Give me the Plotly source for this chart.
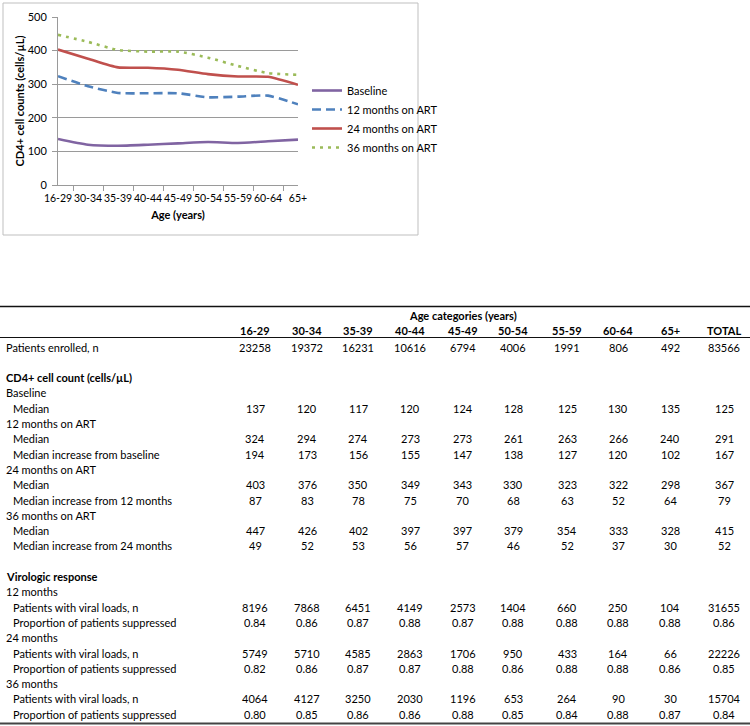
import plotly.graph_objects as go

W, H = 750, 726

# ---------------- data ----------------
age_groups = ["16-29", "30-34", "35-39", "40-44", "45-49", "50-54", "55-59", "60-64", "65+"]
col_headers = age_groups + ["TOTAL"]

baseline = [137, 120, 117, 120, 124, 128, 125, 130, 135]
m12 = [324, 294, 274, 273, 273, 261, 263, 266, 240]
m24 = [403, 376, 350, 349, 343, 330, 323, 322, 298]
m36 = [447, 426, 402, 397, 397, 379, 354, 333, 328]

series_names = ["Baseline", "12 months on ART", "24 months on ART", "36 months on ART"]

enrolled = ["23258", "19372", "16231", "10616", "6794", "4006", "1991", "806", "492", "83566"]
base_median = ["137", "120", "117", "120", "124", "128", "125", "130", "135", "125"]
m12_median = ["324", "294", "274", "273", "273", "261", "263", "266", "240", "291"]
m12_inc = ["194", "173", "156", "155", "147", "138", "127", "120", "102", "167"]
m24_median = ["403", "376", "350", "349", "343", "330", "323", "322", "298", "367"]
m24_inc = ["87", "83", "78", "75", "70", "68", "63", "52", "64", "79"]
m36_median = ["447", "426", "402", "397", "397", "379", "354", "333", "328", "415"]
m36_inc = ["49", "52", "53", "56", "57", "46", "52", "37", "30", "52"]
vl12_n = ["8196", "7868", "6451", "4149", "2573", "1404", "660", "250", "104", "31655"]
vl12_p = ["0.84", "0.86", "0.87", "0.88", "0.87", "0.88", "0.88", "0.88", "0.88", "0.86"]
vl24_n = ["5749", "5710", "4585", "2863", "1706", "950", "433", "164", "66", "22226"]
vl24_p = ["0.82", "0.86", "0.87", "0.87", "0.88", "0.86", "0.88", "0.88", "0.86", "0.85"]
vl36_n = ["4064", "4127", "3250", "2030", "1196", "653", "264", "90", "30", "15704"]
vl36_p = ["0.80", "0.85", "0.86", "0.86", "0.88", "0.85", "0.84", "0.88", "0.87", "0.84"]

# table rows: (label, indent, bold, values)
table_rows = [
    ("Patients enrolled, n", 0, False, enrolled),
    ("", 0, False, None),
    ("CD4+ cell count (cells/µL)", 0, True, None),
    ("Baseline", 0, False, None),
    ("Median", 1, False, base_median),
    ("12 months on ART", 0, False, None),
    ("Median", 1, False, m12_median),
    ("Median increase from baseline", 1, False, m12_inc),
    ("24 months on ART", 0, False, None),
    ("Median", 1, False, m24_median),
    ("Median increase from 12 months", 1, False, m24_inc),
    ("36 months on ART", 0, False, None),
    ("Median", 1, False, m36_median),
    ("Median increase from 24 months", 1, False, m36_inc),
    ("", 0, False, None),
    ("Virologic response", 0, True, None),
    ("12 months", 0, False, None),
    ("Patients with viral loads, n", 1, False, vl12_n),
    ("Proportion of patients suppressed", 1, False, vl12_p),
    ("24 months", 0, False, None),
    ("Patients with viral loads, n", 1, False, vl24_n),
    ("Proportion of patients suppressed", 1, False, vl24_p),
    ("36 months", 0, False, None),
    ("Patients with viral loads, n", 1, False, vl36_n),
    ("Proportion of patients suppressed", 1, False, vl36_p),
]

# ---------------- layout helpers ----------------
def px(x):
    return x / W

def py(y):
    return 1 - y / H

FONT = "Lato, 'Open Sans', 'Liberation Sans', sans-serif"

colors = ["#8064A2", "#4F81BD", "#C0504D", "#9BBB59"]
dashes = ["solid", "9px,5px", "solid", "3px,5px"]

fig = go.Figure()
vals = [baseline, m12, m24, m36]
for name, v, c, d in zip(series_names, vals, colors, dashes):
    fig.add_trace(go.Scatter(
        x=age_groups, y=v, name=name, mode="lines",
        line=dict(color=c, width=2.6, dash=d, shape="spline", smoothing=0.6),
    ))

grid_c = "#9a9a9a"
fig.update_layout(
    width=W, height=H,
    margin=dict(l=0, r=0, t=0, b=0, autoexpand=False),
    paper_bgcolor="white", plot_bgcolor="white",
    font=dict(family=FONT, size=11, color="#000000"),
    showlegend=True,
    legend=dict(x=px(307), y=py(76), xanchor="left", yanchor="top",
                bgcolor="rgba(0,0,0,0)", font=dict(size=11), tracegroupgap=0),
    xaxis=dict(domain=[px(58), px(298)], type="category", automargin=False,
               tickson="boundaries", ticks="outside", ticklen=5, tickcolor=grid_c,
               showline=True, linecolor=grid_c, linewidth=1, showgrid=False,
               tickangle=0, tickfont=dict(size=10.5), ticklabelstandoff=3,
               title=dict(text="<b>Age (years)</b>", font=dict(size=11), standoff=8)),
    yaxis=dict(domain=[py(185), py(17)], range=[0, 500], dtick=100, automargin=False,
               ticks="outside", ticklen=5, tickcolor=grid_c, ticklabelstandoff=3,
               showline=True, linecolor=grid_c, linewidth=1,
               showgrid=True, gridcolor=grid_c, gridwidth=1, zeroline=False,
               tickfont=dict(size=11),
               title=dict(text="<b>CD4+ cell counts (cells/µL)</b>", font=dict(size=11), standoff=0)),
)

shapes = []
# chart border
shapes.append(dict(type="rect", xref="paper", yref="paper",
                   x0=px(3), x1=px(418), y0=py(235), y1=py(3),
                   line=dict(color="#bfbfbf", width=1)))
# table rules
shapes.append(dict(type="line", xref="paper", yref="paper", x0=0, x1=1,
                   y0=py(306.5), y1=py(306.5), line=dict(color="#111111", width=1.6)))
shapes.append(dict(type="line", xref="paper", yref="paper", x0=0, x1=1,
                   y0=py(337.5), y1=py(337.5), line=dict(color="#111111", width=1.2)))
shapes.append(dict(type="line", xref="paper", yref="paper", x0=0, x1=1,
                   y0=py(723.5), y1=py(723.5), line=dict(color="#444444", width=2)))

annotations = []
col_x = [255, 307, 358, 410, 463, 513, 567, 618, 670, 724]
TS = 11

annotations.append(dict(text="<b>Age categories (years)</b>", x=px(463), y=py(315),
                        xref="paper", yref="paper", showarrow=False,
                        xanchor="center", yanchor="middle", font=dict(size=TS)))
for h, cx in zip(col_headers, col_x):
    annotations.append(dict(text=f"<b>{h}</b>", x=px(cx), y=py(330),
                            xref="paper", yref="paper", showarrow=False,
                            xanchor="center", yanchor="middle", font=dict(size=TS)))

row0, dy = 347, 15.3
for i, (label, indent, bold, values) in enumerate(table_rows):
    yy = row0 + i * dy
    if label:
        t = f"<b>{label}</b>" if bold else label
        annotations.append(dict(text=t, x=px(4 + 7 * indent), y=py(yy),
                                xref="paper", yref="paper", showarrow=False,
                                xanchor="left", yanchor="middle", font=dict(size=TS)))
    if values:
        for v, cx in zip(values, col_x):
            annotations.append(dict(text=v, x=px(cx), y=py(yy),
                                    xref="paper", yref="paper", showarrow=False,
                                    xanchor="center", yanchor="middle", font=dict(size=TS)))

fig.update_layout(shapes=shapes, annotations=annotations)
fig.write_html("out.html", config={"displayModeBar": False},
               post_script="document.body.style.margin='0';document.body.style.overflow='hidden';")
